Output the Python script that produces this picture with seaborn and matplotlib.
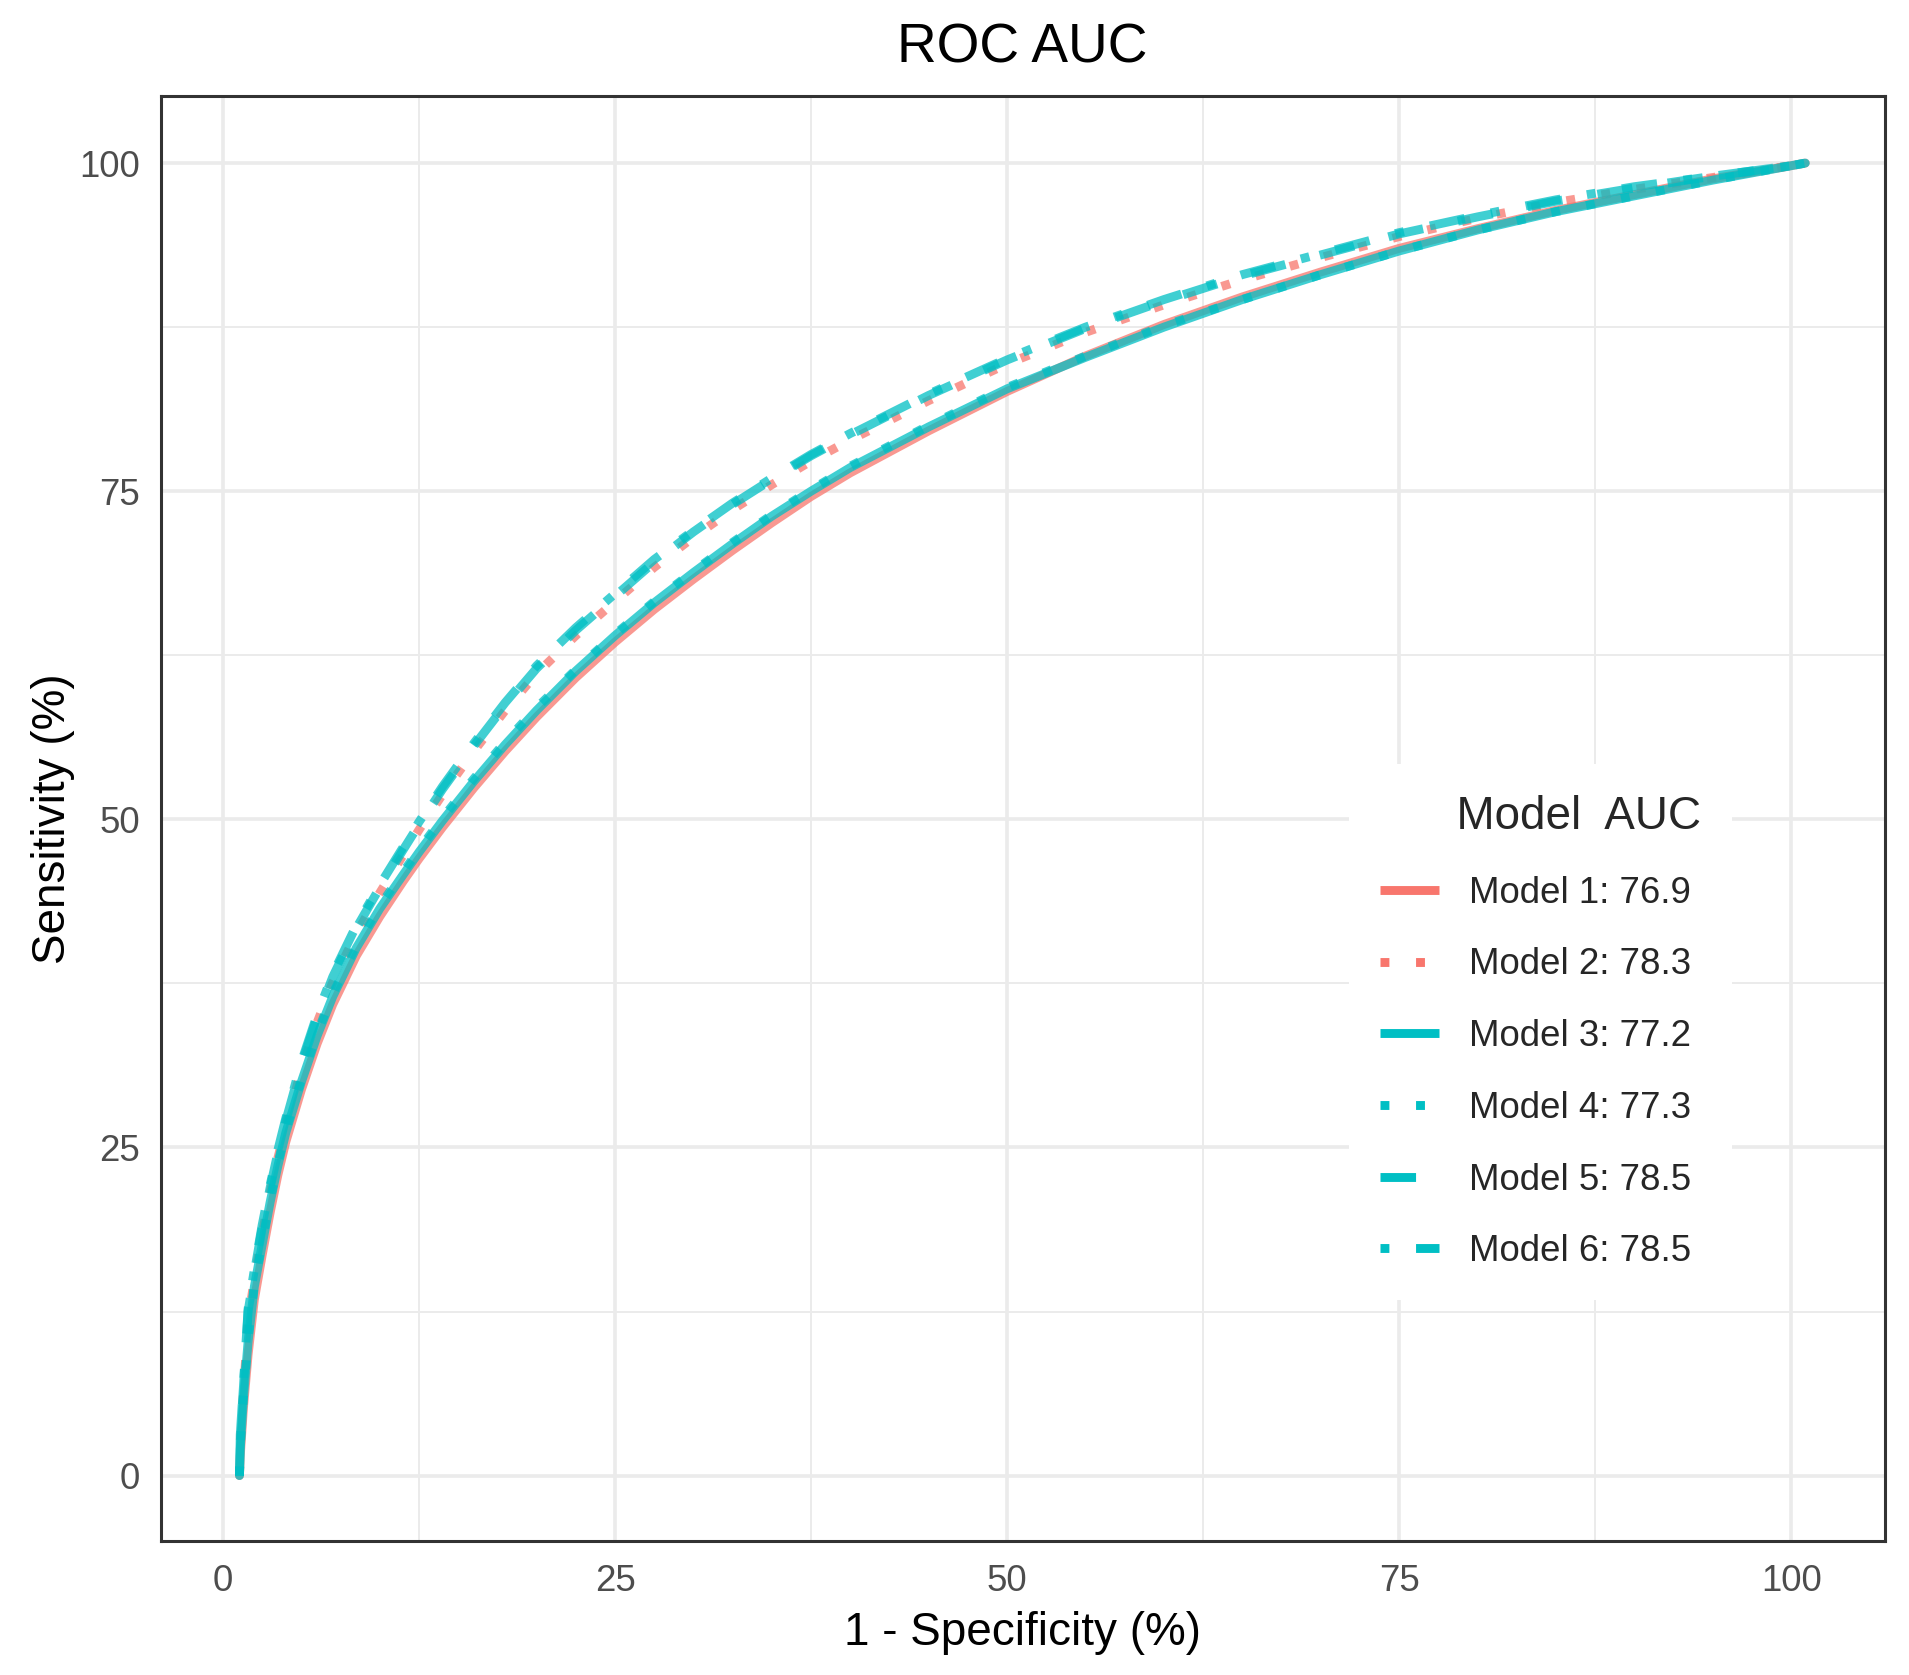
import matplotlib
matplotlib.use("Agg")
import matplotlib.pyplot as plt
from matplotlib.lines import Line2D
from matplotlib.ticker import MultipleLocator
import pandas as pd
import seaborn as sns

# ROC curves (1 - specificity vs sensitivity, in %)
fpr = [1.05, 1.1, 1.3, 1.6, 2.0, 2.5, 3.0, 3.5, 4.0, 5.0, 6.0, 7.0, 8.5, 10, 11.5,
       12.5, 14, 16, 18, 20, 22.5, 25, 27.5, 30, 32.5, 35, 37.5, 40, 45, 50, 55,
       60, 65, 70, 75, 80, 85, 90, 95, 100, 100.9]

sens_m1 = [0, 1.5, 5.1, 9.2, 13.4, 16.8, 20.0, 22.9, 25.4, 29.4, 32.9, 35.9, 39.6, 42.6, 45.3,
           47.0, 49.4, 52.4, 55.2, 57.8, 60.8, 63.5, 66.0, 68.3, 70.5, 72.6, 74.6, 76.4, 79.6, 82.6, 85.3,
           87.7, 89.8, 91.7, 93.5, 95.0, 96.4, 97.6, 98.8, 99.8, 100]
sens_m2 = [0, 2.6, 6.2, 11.8, 15.0, 18.4, 21.5, 24.2, 26.6, 30.9, 34.5, 37.6, 41.3, 44.4, 47.3,
           49.2, 51.9, 55.2, 58.3, 61.1, 64.0, 66.6, 69.2, 71.5, 73.6, 75.5, 77.3, 78.9, 81.9, 84.7, 87.1,
           89.2, 91.1, 92.8, 94.4, 95.8, 97.0, 98.0, 98.9, 99.8, 100]
sens_m3 = [0, 2.0, 5.8, 10.2, 14.4, 17.6, 20.8, 23.6, 26.1, 30.0, 33.5, 36.5, 40.2, 43.2, 45.8,
           47.5, 49.9, 52.9, 55.7, 58.3, 61.3, 64.0, 66.5, 68.8, 71.0, 73.1, 75.0, 76.8, 79.9, 82.8, 85.2,
           87.5, 89.6, 91.5, 93.3, 94.9, 96.3, 97.5, 98.7, 99.8, 100]
sens_m4 = [0, 2.2, 6.0, 10.5, 14.6, 17.8, 21.0, 23.8, 26.3, 30.2, 33.7, 36.7, 40.4, 43.4, 46.0,
           47.7, 50.1, 53.1, 55.9, 58.5, 61.4, 64.1, 66.6, 68.9, 71.1, 73.2, 75.1, 76.9, 80.0, 82.9, 85.3,
           87.6, 89.6, 91.5, 93.3, 94.9, 96.3, 97.5, 98.7, 99.8, 100]
sens_m5 = [0, 3.0, 6.7, 12.5, 15.5, 18.9, 21.9, 24.6, 27.0, 31.3, 34.9, 38.0, 41.7, 44.8, 47.7,
           49.6, 52.3, 55.6, 58.7, 61.5, 64.4, 67.0, 69.6, 71.9, 74.0, 75.9, 77.7, 79.3, 82.3, 85.0, 87.4,
           89.5, 91.4, 93.0, 94.6, 95.9, 97.1, 98.1, 99.0, 99.8, 100]
sens_m6 = [0, 3.1, 6.9, 12.7, 15.7, 19.1, 22.1, 24.8, 27.2, 31.5, 35.1, 38.2, 41.9, 45.0, 47.9,
           49.8, 52.5, 55.8, 58.9, 61.7, 64.6, 67.2, 69.8, 72.0, 74.1, 76.0, 77.8, 79.4, 82.4, 85.1, 87.5,
           89.6, 91.5, 93.1, 94.7, 96.0, 97.2, 98.2, 99.0, 99.8, 100]

models = ['Model 1', 'Model 2', 'Model 3', 'Model 4', 'Model 5', 'Model 6']
auc = [76.9, 78.3, 77.2, 77.3, 78.5, 78.5]
curves = [sens_m1, sens_m2, sens_m3, sens_m4, sens_m5, sens_m6]

RED = '#F8766D'
CYAN = '#00BFC4'
colors = {'Model 1': RED, 'Model 2': RED, 'Model 3': CYAN,
          'Model 4': CYAN, 'Model 5': CYAN, 'Model 6': CYAN}
# ggplot linetypes: solid, dotted, dashed, dotdash (in units of line width)
dash_map = {'Model 1': '', 'Model 2': (1, 3), 'Model 3': '',
            'Model 4': (1, 3), 'Model 5': (4, 4), 'Model 6': (1, 3, 4, 3)}

rows = []
for m, ys in zip(models, curves):
    for x, y in zip(fpr, ys):
        rows.append({'fpr': x, 'sens': y, 'Model': m})
df = pd.DataFrame(rows)

sns.set_style("white")
plt.rcParams['font.family'] = ['Liberation Sans', 'DejaVu Sans']

LW = 6.4
fig = plt.figure(figsize=(19.09, 16.75), dpi=100)
ax = fig.add_axes([0.0842, 0.0798, 0.9031, 0.8628])

sns.lineplot(data=df, x='fpr', y='sens', hue='Model', style='Model',
             palette=colors, dashes=dash_map, linewidth=LW, alpha=0.75,
             estimator=None, sort=False, legend=False, ax=ax)

ax.set_xlim(-3.97, 105.97)
ax.set_ylim(-5.01, 105.1)
ax.set_xticks([0, 25, 50, 75, 100])
ax.set_yticks([0, 25, 50, 75, 100])
ax.xaxis.set_minor_locator(MultipleLocator(12.5))
ax.yaxis.set_minor_locator(MultipleLocator(12.5))
ax.set_axisbelow(True)
ax.grid(which='major', color='#EBEBEB', linewidth=2.6)
ax.grid(which='minor', color='#EBEBEB', linewidth=1.4)

for s in ax.spines.values():
    s.set_visible(True)
    s.set_color('#333333')
    s.set_linewidth(2.2)

ax.tick_params(which='major', direction='out', length=8.3, width=2.2,
               color='#333333', labelsize=26.4, labelcolor='#4D4D4D')
ax.tick_params(axis='x', pad=8)
ax.tick_params(axis='y', pad=6.6)
ax.tick_params(which='minor', length=0)

ax.set_xlabel('1 - Specificity (%)', fontsize=33, color='black', labelpad=9)
ax.set_ylabel('Sensitivity (%)', fontsize=33, color='black')
ax.yaxis.set_label_coords(-0.0497, 0.5)
ax.set_title('ROC AUC', fontsize=39.6, color='black', pad=24)

handles = []
for m in models:
    d = dash_map[m]
    if d == '':
        h = Line2D([], [], color=colors[m], linewidth=LW, linestyle='-',
                   solid_capstyle='butt')
    else:
        h = Line2D([], [], color=colors[m], linewidth=LW, dashes=d,
                   dash_capstyle='butt')
    handles.append(h)
labels = [f"{m}: {a}" for m, a in zip(models, auc)]

leg = ax.legend(handles, labels, title='      Model  AUC', loc='upper left',
                bbox_to_anchor=(1349 / 1909, 1 - 764 / 1675),
                bbox_transform=fig.transFigure, borderaxespad=0,
                frameon=True, fancybox=False, framealpha=1,
                facecolor='white', edgecolor='none',
                fontsize=26.4, title_fontsize=33, handlelength=1.6,
                handletextpad=0.82, labelspacing=1.0, borderpad=0.85,
                alignment='left')

fig.savefig('out.png', dpi=100, facecolor='white')
